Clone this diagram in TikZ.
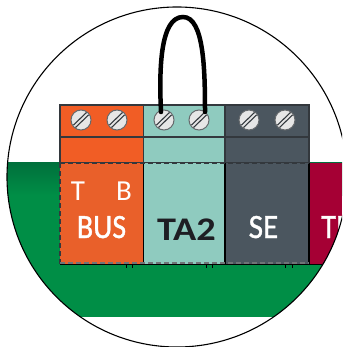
\documentclass[tikz,border=0pt]{standalone}
\usepackage{fontspec}
\setmainfont{Carlito}
\newfontfamily\semifont[FakeBold=1.2]{Carlito}
\definecolor{grn}{HTML}{008E46}
\definecolor{grnd}{HTML}{00703C}
\definecolor{org}{HTML}{F15D25}
\definecolor{orgl}{HTML}{E9602A}
\definecolor{teal}{HTML}{8FCBBF}
\definecolor{slate}{HTML}{4B565F}
\definecolor{crim}{HTML}{A50034}
\definecolor{edge}{HTML}{33383D}
\definecolor{scr}{HTML}{E6E6E6}
\tikzset{
  blk/.style={draw=edge,line width=1.3pt},
  cutline/.style={draw=edge,line width=1.5pt,dash pattern=on 5pt off 3pt},
  screwhead/.style={circle,draw=edge!75,line width=1pt,fill=scr,minimum size=20pt,inner sep=0pt},
  lab/.style={text=white,anchor=base,inner sep=0pt,font=\fontsize{34}{34}\selectfont\semifont},
  sub/.style={text=white,anchor=base,inner sep=0pt,font=\fontsize{29}{29}\selectfont},
}
\newcommand{\screw}[3]{%
  \node[screwhead] (#1) at (#2,#3) {};
  \draw[edge,line width=1.1pt] (#2-7.5,#3+5) -- (#2+5.5,#3-7.5);
  \draw[edge,line width=1.1pt] (#2-5.5,#3+7.5) -- (#2+7.5,#3-5);
}
\begin{document}
\begin{tikzpicture}[x=1pt,y=-1pt]
\useasboundingbox (0,0) rectangle (342,347);
\clip (0,0) rectangle (342,347);
\begin{scope}
  \clip (177,177) circle (170);
  \fill[grn] (0,163) rectangle (342,317);
  \shade[top color=grnd,bottom color=grn] (0,163) rectangle (342,195);
  \fill[crim] (309,163) rectangle (342,264);
  \node[lab,anchor=base west,xscale=.9,transform shape] (tp) at (321,238) {TP};
  \draw[black,line width=1.3pt] (60,264.5) -- (342,264.5);
\end{scope}
% upper terminal blocks
\draw[blk,fill=org] (60,105) rectangle (143.5,163);
\draw[blk,fill=teal] (143.5,105) rectangle (225,163);
\draw[blk,fill=slate] (225,105) rectangle (309,163);
\draw[blk] (60,137) -- (309,137);
% lower blocks
\fill[orgl] (60,163) rectangle (143.5,264);
\fill[teal] (143.5,163) rectangle (225,264);
\fill[slate] (225,163) rectangle (309,264);
\draw[black,line width=1.6pt] (143.5,163) -- (143.5,264);
\draw[black,line width=1.6pt] (225,163) -- (225,264);
\draw[black,line width=2pt] (308.5,163) -- (308.5,264);
\draw[cutline] (60,163) -- (309,163);
\draw[cutline] (60,163) -- (60,264);
\draw[edge!70,line width=1.2pt,dash pattern=on 5pt off 3pt] (60,263) -- (309,263);
% small ticks below the blocks
\foreach \tx in {126,132,206,212,285,292}
  \draw[black,line width=0.9pt] (\tx,265) -- (\tx,267.5);
% screws
\screw{s1}{81}{120}
\screw{s2}{117}{120}
\screw{s3}{164}{120}
\screw{s4}{199}{120}
\screw{s5}{249}{120}
\screw{s6}{285}{120}
% wire
\draw[black,line width=4.5pt,line cap=round] (161,112) .. controls (159,70) and (160,17) .. (183,17) .. controls (204,17) and (205,70) .. (205,112);
% labels
\node[sub] (t) at (78,200) {T};
\node[sub] (b) at (124,200) {B};
\node[lab,xscale=.88,transform shape] (bus) at (101.5,238) {BUS};
\node[lab,text={rgb,255:red,30;green,30;blue,35},font=\fontsize{33}{33}\selectfont\bfseries,xscale=1.16,transform shape] (ta) at (186.5,240) {TA2};
\node[lab,xscale=.92,transform shape] (se) at (263.5,238) {SE};
% outline
\draw[black,line width=1.1pt] (177,177) circle (170);
\end{tikzpicture}
\end{document}
